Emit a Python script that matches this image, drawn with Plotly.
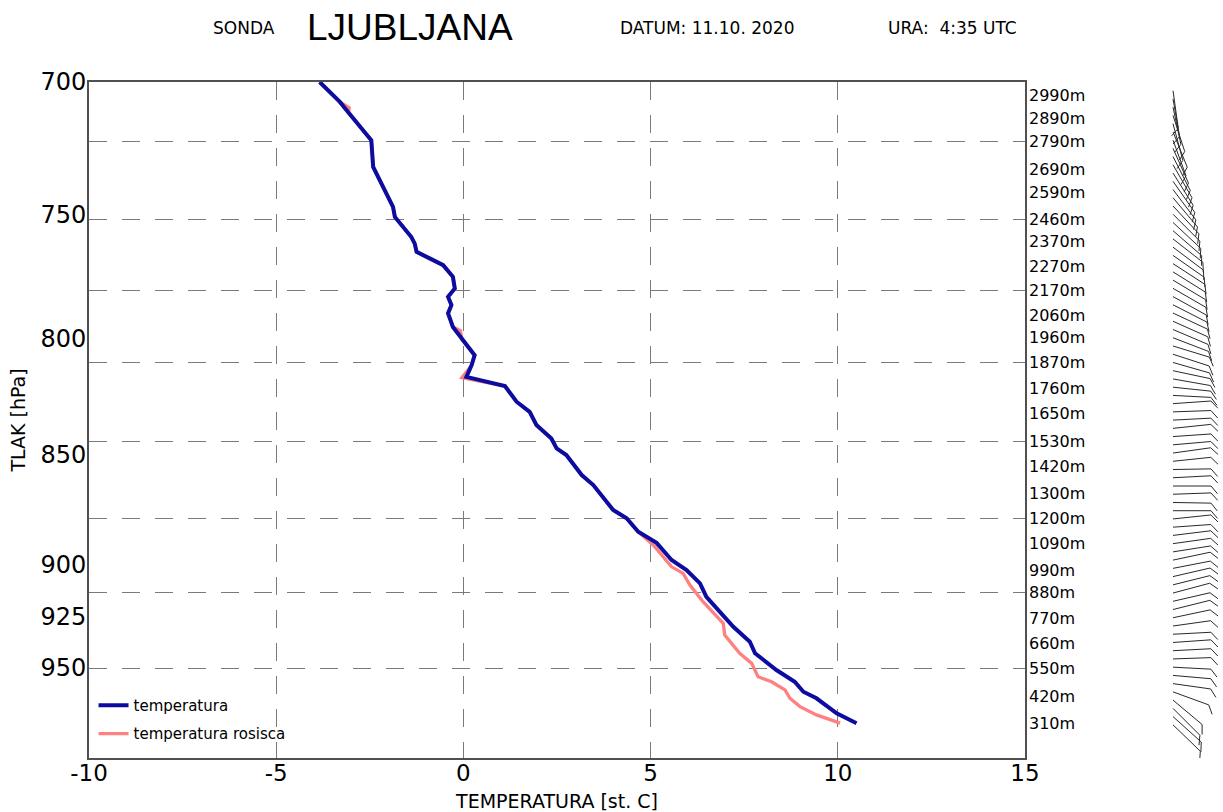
import math
import plotly.graph_objects as go

# ---------------- data ----------------
pressure_t = [700.0, 707.3, 710.4, 721.6, 731.7, 747.1, 751.0, 758.9, 761.5, 764.8,
              767.4, 770.1, 774.8, 779.5, 782.9, 786.3, 789.7, 795.3, 807.1, 811.3,
              816.3, 820.2, 826.9, 831.3, 837.0, 842.9, 847.3, 850.2, 859.1, 863.6,
              874.9, 878.7, 884.9, 890.0, 898.0, 902.7, 909.0, 915.4, 929.8, 937.1,
              942.7, 951.0, 956.8, 961.8, 965.1, 972.7, 977.7]
temperature = [-3.84, -3.30, -3.12, -2.46, -2.41, -1.88, -1.83, -1.39, -1.30, -1.25,
               -0.90, -0.54, -0.28, -0.23, -0.41, -0.32, -0.41, -0.28, 0.30, 0.22,
               0.08, 1.11, 1.42, 1.77, 1.95, 2.35, 2.49, 2.75, 3.16, 3.47,
               4.00, 4.36, 4.67, 5.16, 5.56, 5.96, 6.32, 6.49, 7.21, 7.65,
               7.79, 8.36, 8.85, 9.08, 9.43, 9.97, 10.50]

pressure_td = [700.0, 707.3, 709.5, 711.2, 721.6, 731.7, 747.1, 751.0, 758.9, 761.5,
               764.8, 767.4, 770.1, 774.8, 779.5, 782.9, 786.3, 789.7, 795.3, 796.8,
               800.5, 807.1, 811.3, 816.6, 820.2, 826.9, 831.3, 837.0, 842.9, 847.3,
               850.2, 859.1, 863.6, 874.9, 878.7, 884.9, 891.0, 901.2, 904.3, 909.8,
               917.7, 928.1, 933.8, 942.7, 947.7, 954.3, 956.8, 960.9, 965.1, 969.3,
               973.5, 977.7]
dewpoint = [-3.84, -3.30, -3.05, -3.07, -2.46, -2.41, -1.88, -1.83, -1.39, -1.30,
            -1.25, -0.90, -0.54, -0.28, -0.23, -0.41, -0.32, -0.41, -0.28, -0.08,
            -0.04, 0.30, 0.22, -0.04, 1.11, 1.42, 1.77, 1.95, 2.35, 2.49,
            2.75, 3.16, 3.47, 4.00, 4.36, 4.67, 5.07, 5.56, 5.87, 6.05,
            6.40, 6.94, 6.98, 7.38, 7.70, 7.87, 8.23, 8.59, 8.72, 8.99,
            9.43, 10.06]

temp_ticks = [-10, -5, 0, 5, 10, 15]
temp_tick_text = ["-10", "-5", "0", "5", "10", "15"]
pressure_ticks = [700, 750, 800, 850, 900, 925, 950]

height_labels = [2990, 2890, 2790, 2690, 2590, 2460, 2370, 2270, 2170, 2060, 1960, 1870, 1760,
                 1650, 1530, 1420, 1300, 1200, 1090, 990, 880, 770, 660, 550, 420, 310]
height_label_p = [704.9, 713.5, 722.0, 732.6, 741.3, 751.9, 760.8, 770.8, 780.5, 790.7, 799.8,
                  810.2, 821.2, 832.0, 844.1, 855.4, 867.4, 878.7, 890.2, 902.7, 913.4, 925.7,
                  937.8, 950.2, 963.9, 977.7]
grid_p = [722.0, 751.9, 780.5, 810.2, 844.1, 878.7, 913.4, 950.2]

wind_height = [310, 345, 380, 415, 450, 485, 520, 555, 590, 625,
               660, 695, 730, 765, 800, 835, 870, 905, 940, 975,
               1010, 1045, 1080, 1115, 1150, 1185, 1220, 1255, 1290, 1325,
               1360, 1395, 1430, 1465, 1500, 1535, 1570, 1605, 1640, 1675,
               1710, 1745, 1780, 1815, 1850, 1885, 1920, 1955, 1990, 2025,
               2060, 2095, 2130, 2165, 2200, 2235, 2270, 2305, 2340, 2375,
               2410, 2445, 2480, 2515, 2550, 2585, 2620, 2655, 2690, 2725,
               2760, 2795, 2830, 2865, 2900, 2935, 2970, 3005]
wind_dir = [134, 132, 135, 130, 110, 98, 95, 93, 88, 87,
            86, 87, 82, 78, 76, 77, 75, 76, 77, 79,
            78, 81, 82, 83, 86, 84, 90, 91, 88, 90,
            87, 89, 84, 82, 85, 86, 84, 87, 88, 86,
            93, 96, 100, 102, 106, 108, 107, 111, 113, 114,
            115, 117, 119, 120, 121, 122, 123, 125, 127, 128,
            131, 133, 135, 137, 140, 143, 145, 148, 150, 153,
            156, 160, 158, 165, 162, 168, 170, 172]

# ---------------- layout constants ----------------
W, H = 1223, 812
ML, MR, MT, MB = 89, 0, 82, 54
PAPER_W = W - ML - MR
PAPER_H = H - MT - MB
MAIN_W = 936
P_TOP, P_BOT = 700.0, 995.6
H_TOP, H_BOT = 3042.0, 169.0          # height scale of the barb column
M_PER_PX = (H_TOP - H_BOT) / PAPER_H
BARB_PX0, BARB_PX1 = 1162, W          # barb column, figure pixels
STAFF = 38 * M_PER_PX
FEATHER = 10 * M_PER_PX
BASE_X = 11 * M_PER_PX

GRID_COLOR = "#7a7a7a"
DASH = "18px,15px"
FONT = "DejaVu Sans"

# wind barb glyphs (staff + one feather) from direction
bx, by = [], []
for h, d in zip(wind_height, wind_dir):
    th = math.radians(d - 90)
    tx = BASE_X + STAFF * math.cos(th)
    ty = h - STAFF * math.sin(th)
    ph = th + math.radians(50)
    fx = tx + FEATHER * math.cos(ph)
    fy = ty - FEATHER * math.sin(ph)
    bx += [BASE_X, tx, fx, None]
    by += [h, ty, fy, None]

fig = go.Figure()
fig.add_trace(go.Scatter(x=dewpoint, y=pressure_td, mode="lines", name="temperatura rosisca",
                         line=dict(color="#ff8080", width=3.3), legendrank=2,
                         legendgroup="b", hoverinfo="skip"))
fig.add_trace(go.Scatter(x=temperature, y=pressure_t, mode="lines", name="temperatura",
                         line=dict(color="#0c0ca0", width=4), legendrank=1,
                         legendgroup="a", hoverinfo="skip"))
fig.add_trace(go.Scatter(x=[None], y=[None], yaxis="y2", showlegend=False, hoverinfo="skip"))
fig.add_trace(go.Scatter(x=bx, y=by, xaxis="x3", yaxis="y3", mode="lines",
                         line=dict(color="#2a2a2a", width=1), showlegend=False,
                         hoverinfo="skip"))

yrange = [math.log10(P_BOT), math.log10(P_TOP)]

fig.update_layout(
    width=W, height=H, autosize=False,
    margin=dict(l=ML, r=MR, t=MT, b=MB, pad=0, autoexpand=False),
    paper_bgcolor="white", plot_bgcolor="white",
    font=dict(family=FONT, size=15, color="black"),
    xaxis=dict(domain=[0, MAIN_W / PAPER_W], range=[-10, 15], tickvals=temp_ticks,
               ticktext=temp_tick_text, ticks="", ticklen=0, ticklabelstandoff=-6,
               showgrid=True, gridcolor=GRID_COLOR, gridwidth=1.3, griddash=DASH,
               showline=True, mirror=True, linecolor="#505050", linewidth=1.6,
               zeroline=False, automargin=False, tickfont=dict(size=23, family=FONT),
               title=dict(text="TEMPERATURA [st. C]", font=dict(size=19, family=FONT),
                          standoff=9)),
    yaxis=dict(type="log", range=yrange, tickvals=pressure_ticks,
               ticktext=[str(p) for p in pressure_ticks], ticks="", ticklen=0,
               ticklabelstandoff=-4, showgrid=False, automargin=False,
               showline=True, mirror=True, linecolor="#505050", linewidth=1.6,
               zeroline=False, tickfont=dict(size=24, family=FONT),
               minor=dict(tickmode="array", tickvals=grid_p, showgrid=True,
                          gridcolor=GRID_COLOR, gridwidth=1.3, griddash=DASH, ticks=""),
               title=dict(text="TLAK [hPa]", font=dict(size=19, family=FONT), standoff=10)),
    yaxis2=dict(type="log", range=yrange, overlaying="y", side="right", anchor="x",
                tickvals=height_label_p, ticktext=[f"{h}m" for h in height_labels],
                ticks="", ticklen=0, ticklabelstandoff=3, showgrid=False, showline=False,
                zeroline=False, automargin=False, tickfont=dict(size=16, family=FONT)),
    xaxis3=dict(domain=[(BARB_PX0 - ML) / PAPER_W, 1.0], automargin=False,
                range=[0, (BARB_PX1 - BARB_PX0) * M_PER_PX], visible=False, anchor="y3"),
    yaxis3=dict(domain=[0, 1], range=[H_BOT, H_TOP], visible=False, anchor="x3",
                automargin=False),
    legend=dict(x=0.004, y=0.012, xanchor="left", yanchor="bottom",
                bgcolor="rgba(0,0,0,0)", font=dict(size=15, family=FONT),
                tracegroupgap=6),
    showlegend=True,
)

title_y = (H - MB - 28) / PAPER_H
for text, px, size, fam in [("SONDA", 211, 17, FONT),
                            ("LJUBLJANA", 305, 37, "Liberation Sans"),
                            ("DATUM: 11.10. 2020", 618, 17, FONT),
                            ("URA:\u00a0 4:35 UTC", 886, 17, FONT)]:
    fig.add_annotation(text=text, x=(px - ML) / PAPER_W, y=title_y,
                       xref="paper", yref="paper", xanchor="left", yanchor="middle",
                       showarrow=False, font=dict(size=size, family=fam, color="black"))

fig.write_html(
    "out.html",
    config={"displayModeBar": False},
    post_script="document.body.style.margin='0';document.body.style.overflow='hidden';",
)
